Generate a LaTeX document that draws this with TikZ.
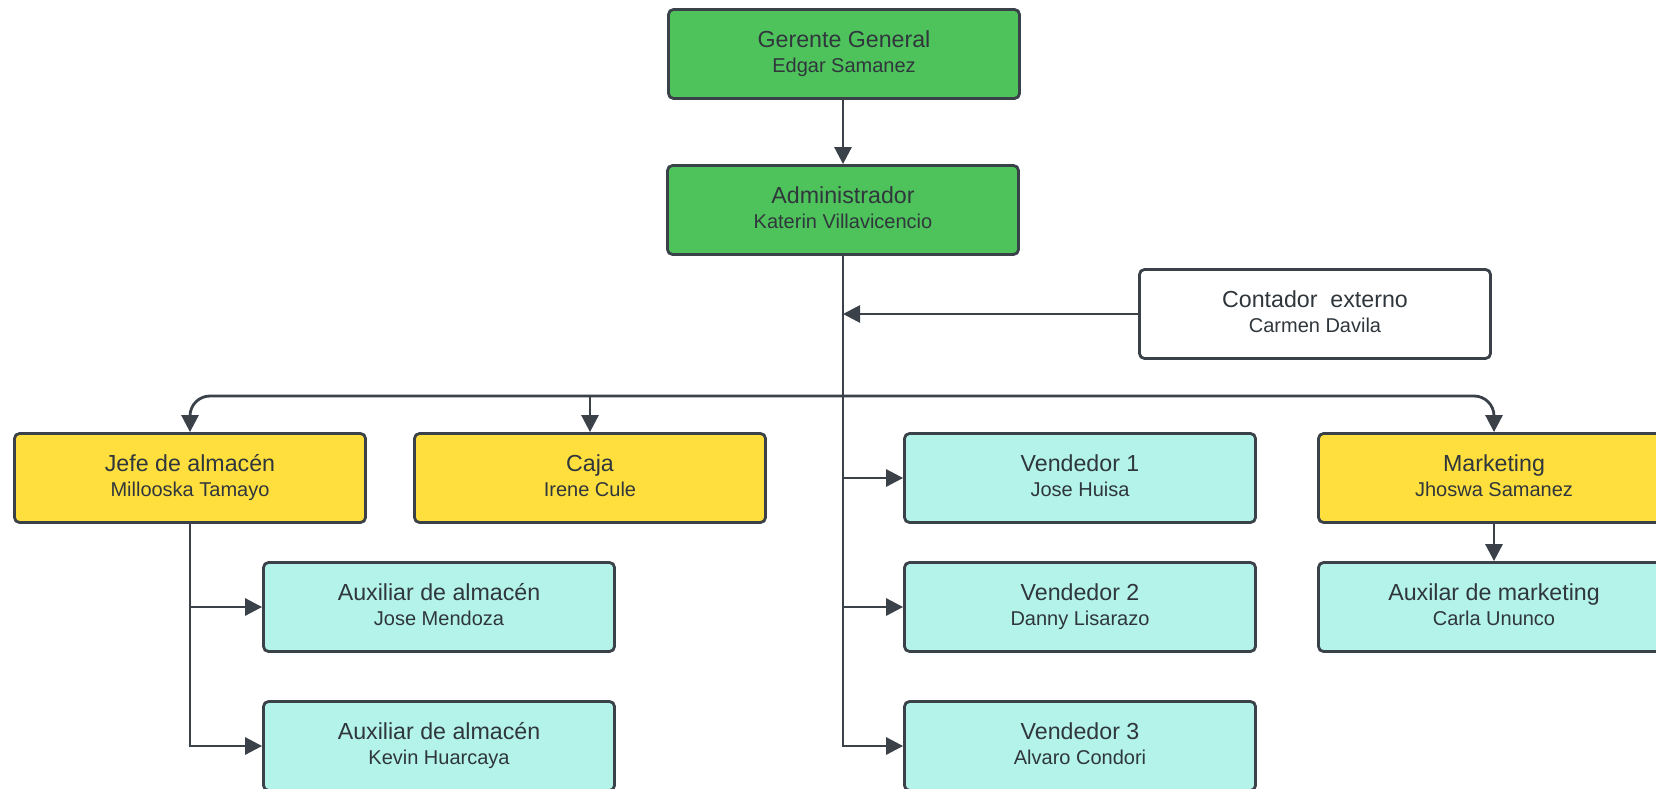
\documentclass[tikz,border=0pt]{standalone}
\usepackage{fontspec}
\setmainfont{Liberation Sans}
\usetikzlibrary{arrows.meta}

\definecolor{boxgreen}{HTML}{4FC35B}
\definecolor{boxyellow}{HTML}{FFDF3D}
\definecolor{boxcyan}{HTML}{B3F3E9}
\definecolor{edge}{HTML}{3A4149}
\definecolor{ink}{HTML}{2F363C}

\tikzset{
  orgbox/.style={draw=edge, line width=2.8pt, rounded corners=5pt,
    minimum width=351pt, minimum height=89pt, inner sep=0pt,
    align=center, text=ink, font=\fontsize{20}{25}\selectfont},
  greenbox/.style={orgbox, fill=boxgreen},
  yellowbox/.style={orgbox, fill=boxyellow},
  cyanbox/.style={orgbox, fill=boxcyan},
  whitebox/.style={orgbox, fill=white},
  link/.style={draw=edge, line width=2.8pt},
  arr/.style={link, -{Triangle[length=17pt,width=17pt]}},
}

% title line over a name line
\newcommand\orgtext[2]{{\fontsize{23.2}{27}\selectfont\vphantom{Jl}#1}\\{\fontsize{20}{25}\selectfont\vphantom{gy}#2}}

\begin{document}
\begin{tikzpicture}[x=1pt,y=-1pt]
  \clip (0,0) rectangle (1656,789);
  \fill[white] (0,0) rectangle (1656,789);

  \node[greenbox]  (gerente) at (844,54)  {\orgtext{Gerente General}{Edgar Samanez}};
  \node[greenbox]  (admin)   at (843,210) {\orgtext{Administrador}{Katerin Villavicencio}};
  \node[whitebox]  (contador) at (1315,314) {\orgtext{Contador\ \ externo}{Carmen Davila}};

  \node[yellowbox] (jefe)  at (190,478)  {\orgtext{Jefe de almacén}{Millooska Tamayo}};
  \node[yellowbox] (caja)  at (590,478)  {\orgtext{Caja}{Irene Cule}};
  \node[cyanbox]   (v1)    at (1080,478) {\orgtext{Vendedor 1}{Jose Huisa}};
  \node[yellowbox] (mkt)   at (1494,478) {\orgtext{Marketing}{Jhoswa Samanez}};

  \node[cyanbox]   (aux1)  at (439,607)  {\orgtext{Auxiliar de almacén}{Jose Mendoza}};
  \node[cyanbox]   (aux2)  at (439,746)  {\orgtext{Auxiliar de almacén}{Kevin Huarcaya}};
  \node[cyanbox]   (v2)    at (1080,607) {\orgtext{Vendedor 2}{Danny Lisarazo}};
  \node[cyanbox]   (v3)    at (1080,746) {\orgtext{Vendedor 3}{Alvaro Condori}};
  \node[cyanbox]   (auxm)  at (1494,607) {\orgtext{Auxilar de marketing}{Carla Ununco}};

  \coordinate (bus) at (843,396);

  % chain of command
  \draw[arr] (admin.north |- gerente.south) -- (admin.north);
  \draw[arr] (admin.south) -- (admin.south |- v3.west) -- (v3.west);
  \draw[arr] (admin.south |- v1.west) -- (v1.west);
  \draw[arr] (admin.south |- v2.west) -- (v2.west);
  \draw[arr] (contador.west) -- (admin.south |- contador.west);

  % distribution bus to the department heads
  \draw[arr, rounded corners=20pt] (bus) -| (jefe.north);
  \draw[arr, rounded corners=20pt] (bus) -| (mkt.north);
  \draw[arr] (caja.north |- bus) -- (caja.north);

  % warehouse staff
  \draw[arr] (jefe.south) |- (aux2.west);
  \draw[arr] (jefe.south |- aux1.west) -- (aux1.west);

  % marketing staff
  \draw[arr] (mkt.south) -- (auxm.north);
\end{tikzpicture}
\end{document}
